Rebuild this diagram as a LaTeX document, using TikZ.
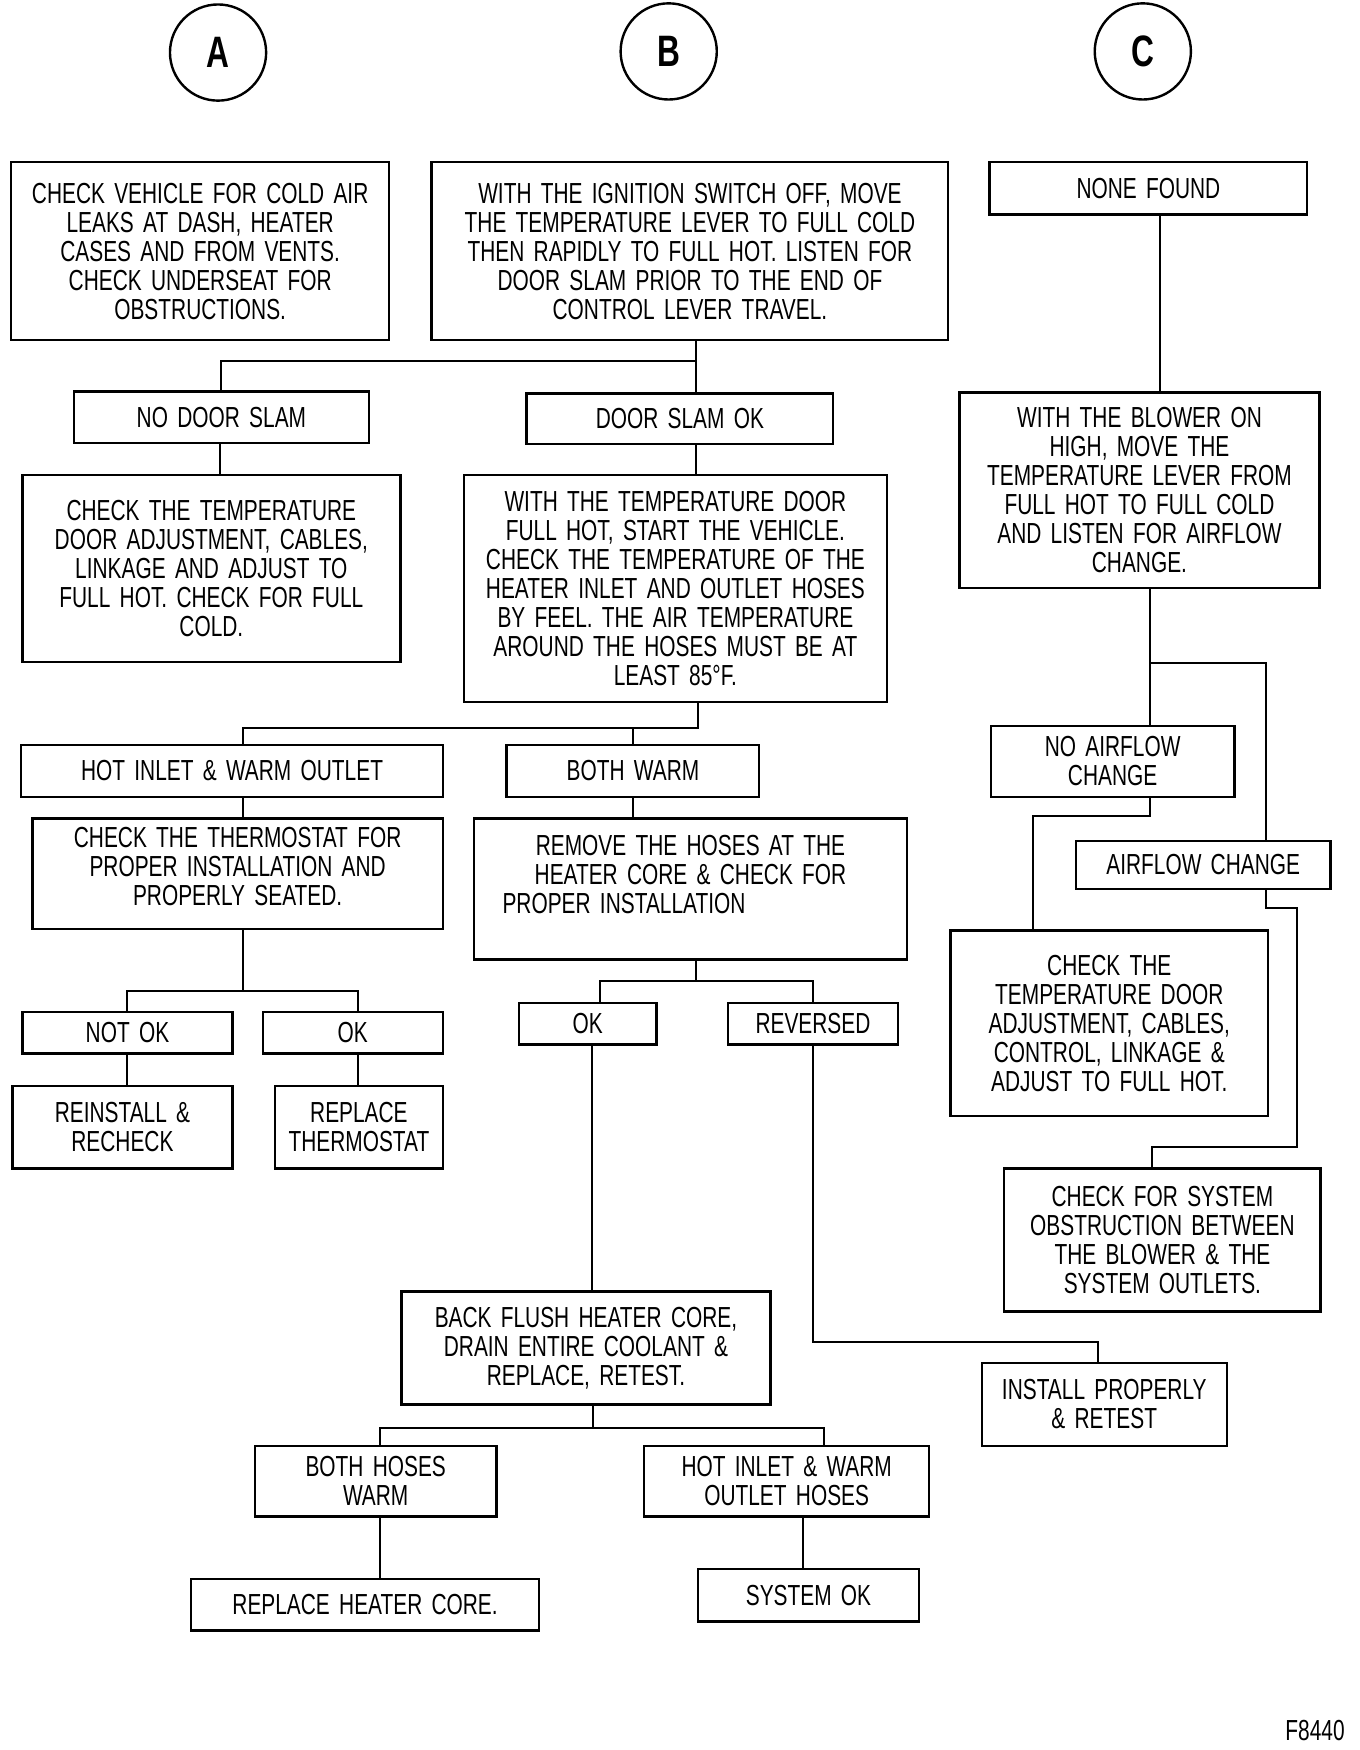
\documentclass[tikz,border=0pt]{standalone}
\usepackage{fontspec}
\setmainfont[FakeStretch=0.72,WordSpace=1.6]{Liberation Sans}
\usetikzlibrary{calc}

\begin{document}
\begin{tikzpicture}[x=0.5592pt,y=-0.5592pt,
  box/.style={draw,line width=1.2pt,align=center,inner sep=0pt,font=\fontsize{14.5}{14.5}\selectfont},
  boxsize/.style 2 args={minimum width=#1*0.5592pt,minimum height=#2*0.5592pt},
  ring/.style={draw,circle,line width=1.2pt,minimum size=86*0.5592pt,font=\fontsize{22}{24}\selectfont\bfseries},
  link/.style={line width=1pt}]

\useasboundingbox (0,0) rectangle (1216,1565);

% column heads
\node (A) at (195,47)[ring] {A};
\node (B) at (598,46)[ring] {B};
\node (C) at (1022,46)[ring] {C};

% column A and B
\node (leak) at (179,224.5)[box,boxsize={338}{159}] {CHECK VEHICLE FOR COLD AIR\\LEAKS AT DASH, HEATER\\CASES AND FROM VENTS.\\CHECK UNDERSEAT FOR\\OBSTRUCTIONS.};
\node (ign) at (617,224.5)[box,boxsize={462}{159}] {WITH THE IGNITION SWITCH OFF, MOVE\\THE TEMPERATURE LEVER TO FULL COLD\\THEN RAPIDLY TO FULL HOT. LISTEN FOR\\DOOR SLAM PRIOR TO THE END OF\\CONTROL LEVER TRAVEL.};
\node (noslam) at (198,373)[box,boxsize={264}{46}] {NO DOOR SLAM};
\node (slamok) at (608,374.5)[box,boxsize={274}{45}] {DOOR SLAM OK};
\node (tdoor) at (189,508.5)[box,boxsize={338}{167}] {CHECK THE TEMPERATURE\\DOOR ADJUSTMENT, CABLES,\\LINKAGE AND ADJUST TO\\FULL HOT. CHECK FOR FULL\\COLD.};
\node (hoses) at (604,526.5)[box,boxsize={378}{203}] {WITH THE TEMPERATURE DOOR\\FULL HOT, START THE VEHICLE.\\CHECK THE TEMPERATURE OF THE\\HEATER INLET AND OUTLET HOSES\\BY FEEL. THE AIR TEMPERATURE\\AROUND THE HOSES MUST BE AT\\LEAST 85°F.};
\node (hotwarm) at (207.5,689.5)[box,boxsize={377}{47}] {HOT INLET \& WARM OUTLET};
\node (bothwarm) at (566,689.5)[box,boxsize={226}{47}] {BOTH WARM};
\node (thermo) at (212.5,781.5)[box,boxsize={367}{99}] {CHECK THE THERMOSTAT FOR\\PROPER INSTALLATION AND\\PROPERLY SEATED.\\[-7pt]\mbox{}};
\node (remove) at (617.5,795)[box,boxsize={387}{126}] {REMOVE THE HOSES AT THE\\HEATER CORE \& CHECK FOR\\\makebox[188pt][l]{PROPER INSTALLATION}\\\mbox{}};
\node (notok) at (114,923.5)[box,boxsize={188}{37}] {NOT OK};
\node (okA) at (315.5,923.5)[box,boxsize={161}{37}] {OK};
\node (okB) at (525.5,915.5)[box,boxsize={123}{37}] {OK};
\node (reversed) at (727,915.5)[box,boxsize={152}{37}] {REVERSED};
\node (reinst) at (109.5,1008)[box,boxsize={197}{74}] {REINSTALL \&\\RECHECK};
\node (replth) at (321,1008)[box,boxsize={150}{74}] {REPLACE\\THERMOSTAT};
\node (flush) at (524,1205.5)[box,boxsize={330}{101}] {BACK FLUSH HEATER CORE,\\DRAIN ENTIRE COOLANT \&\\REPLACE, RETEST.};
\node (install) at (987.5,1256)[box,boxsize={219}{74}] {INSTALL PROPERLY\\\& RETEST};
\node (bothhose) at (336,1324.5)[box,boxsize={216}{63}] {BOTH HOSES\\WARM};
\node (hotout) at (703.5,1324.5)[box,boxsize={255}{63}] {HOT INLET \& WARM\\OUTLET HOSES};
\node (replcore) at (326.5,1435)[box,boxsize={311}{46}] {REPLACE HEATER CORE.};
\node (sysok) at (723,1426.5)[box,boxsize={198}{47}] {SYSTEM OK};

% column C
\node (none) at (1027,168.5)[box,boxsize={284}{47}] {NONE FOUND};
\node (blower) at (1019,438.5)[box,boxsize={322}{175}] {WITH THE BLOWER ON\\HIGH, MOVE THE\\TEMPERATURE LEVER FROM\\FULL HOT TO FULL COLD\\AND LISTEN FOR AIRFLOW\\CHANGE.};
\node (noair) at (995,681)[box,boxsize={218}{64}] {NO AIRFLOW\\CHANGE};
\node (airchg) at (1076,773.5)[box,boxsize={228}{43}] {AIRFLOW CHANGE};
\node (tdoor2) at (992,915)[box,boxsize={284}{166}] {CHECK THE\\TEMPERATURE DOOR\\ADJUSTMENT, CABLES,\\CONTROL, LINKAGE \&\\ADJUST TO FULL HOT.};
\node (obstr) at (1039.5,1109)[box,boxsize={283}{128}] {CHECK FOR SYSTEM\\OBSTRUCTION BETWEEN\\THE BLOWER \& THE\\SYSTEM OUTLETS.};

\node (fig) at (1176,1548)[font=\fontsize{14.5}{14.5}\selectfont] {F8440};

% connectors
\draw [link] (ign.south -| 622,0) -- ++(0,18) -| (noslam.north);
\draw [link] (ign.south -| 622,0) -- (slamok.north -| 622,0);
\draw [link] (noslam.south -| 197,0) -- (tdoor.north -| 197,0);
\draw [link] (slamok.south -| 622,0) -- (hoses.north -| 622,0);
\draw [link] (hoses.south -| 624,0) -- ++(0,22) -| (hotwarm.north -| 217,0);
\draw [link] (bothwarm.north) -- (bothwarm.north |- 0,650);
\draw [link] (hotwarm.south -| 217,0) -- (thermo.north -| 217,0);
\draw [link] (bothwarm.south) -- (remove.north -| bothwarm.south);
\draw [link] (thermo.south -| 217,0) -- ++(0,55);
\draw [link] (notok.north) |- (320,886) -- (okA.north -| 320,0);
\draw [link] (notok.south) -- (reinst.north -| notok.south);
\draw [link] (okA.south -| 320,0) -- (replth.north -| 320,0);
\draw [link] (remove.south -| 622,0) -- ++(0,19);
\draw [link] (okB.north -| 537,0) |- (reversed.north |- 0,877) -- (reversed.north);
\draw [link] (okB.south -| 529,0) -- (flush.north -| 529,0);
\draw [link] (reversed.south) |- (982,1200) -- (install.north -| 982,0);
\draw [link] (flush.south -| 530,0) -- ++(0,21);
\draw [link] (bothhose.north -| 340,0) |- (737,1277) -- (hotout.north -| 737,0);
\draw [link] (bothhose.south -| 340,0) -- (replcore.north -| 340,0);
\draw [link] (hotout.south -| 718,0) -- (sysok.north -| 718,0);
\draw [link] (none.south -| 1037,0) -- (blower.north -| 1037,0);
\draw [link] (blower.south -| 1028,0) -- (noair.north -| 1028,0);
\draw [link] (blower.south -| 1028,0) ++(0,66) -| (airchg.north -| 1132,0);
\draw [link] (noair.south -| 1028,0) |- (924,730) -- (tdoor2.north -| 924,0);
\draw [link] (airchg.south -| 1132,0) |- (1160,812) |- (1030,1026) -- (obstr.north -| 1030,0);
\end{tikzpicture}
\end{document}
